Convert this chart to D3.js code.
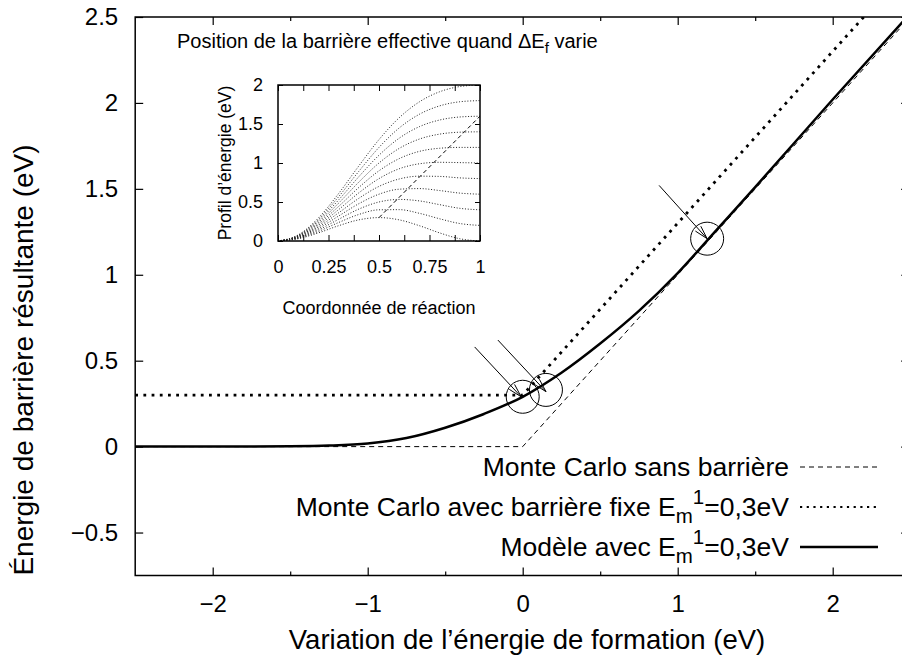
<!DOCTYPE html>
<html><head><meta charset="utf-8">
<script src="https://cdn.jsdelivr.net/npm/d3@7"></script>
<style>
html,body{margin:0;padding:0;background:#fff;}
text{font-family:"Liberation Sans",Arial,Helvetica,sans-serif;fill:#000;}
</style></head>
<body>
<svg id="chart" width="902" height="660"></svg>
<script>
// ---------- data ----------
const xTicks = [-2, -1, 0, 1, 2];
const xMinorTicks = [-1.5, -0.5, 0.5, 1.5];
const yTicks = [-0.5, 0, 0.5, 1, 1.5, 2, 2.5];

const mcSansX = [-2.5, 0, 2.5];
const mcSansY = [0, 0, 2.5];

const mcFixeX = [-2.5, 0, 2.5];
const mcFixeY = [0.3, 0.3, 2.8];

const modelX = [-2.5, -2, -1.5, -1.25, -1, -0.75, -0.5, -0.25, 0, 0.25, 0.5, 0.75, 1, 1.25, 1.5, 2, 2.5];
const modelY = [0, 0, 0.002, 0.006, 0.018, 0.05, 0.11, 0.19, 0.29, 0.43, 0.60, 0.79, 1.01, 1.26, 1.51, 2.02, 2.52];

const circleX = [0, 0.15, 1.19];
const circleY = [0.29, 0.33, 1.21];

const arrowFromX = [-0.31, -0.16, 0.88];
const arrowFromY = [0.58, 0.62, 1.52];
const arrowToX = [-0.01, 0.15, 1.19];
const arrowToY = [0.29, 0.32, 1.21];

const legendLabels = ["Monte Carlo sans barrière", "Monte Carlo avec barrière fixe E_m^1=0,3eV", "Modèle avec E_m^1=0,3eV"];

// inset
const insetCoord = [0, 0.1, 0.2, 0.3, 0.4, 0.5, 0.6, 0.7, 0.8, 0.9, 1.0];
const insetProfiles = [
  [0, .029, .104, .196, .271, .300, .271, .196, .104, .029, 0],
  [0, .034, .123, .237, .340, .400, .402, .355, .285, .224, .2],
  [0, .039, .142, .278, .409, .500, .533, .514, .466, .419, .4],
  [0, .044, .161, .320, .478, .600, .664, .672, .647, .614, .6],
  [0, .049, .180, .361, .547, .700, .795, .831, .828, .809, .8],
  [0, .054, .200, .402, .617, .800, .926, .990, 1.009, 1.005, 1.0],
  [0, .058, .219, .443, .686, .900, 1.056, 1.149, 1.189, 1.200, 1.2],
  [0, .063, .238, .485, .755, 1.000, 1.187, 1.307, 1.370, 1.395, 1.4],
  [0, .068, .257, .526, .824, 1.100, 1.318, 1.466, 1.551, 1.590, 1.6],
  [0, .073, .276, .567, .893, 1.200, 1.449, 1.625, 1.732, 1.785, 1.8],
  [0, .078, .295, .608, .962, 1.300, 1.580, 1.784, 1.913, 1.980, 2.0]
];
const insetPeakX = [0.5, 1.0];
const insetPeakY = [0.3, 1.6];
const insetXTicks = [0, 0.25, 0.5, 0.75, 1];
const insetXMinor = [0.125, 0.375, 0.625, 0.875];
const insetYTicks = [0, 0.5, 1, 1.5, 2];

// ---------- drawing ----------
const svg = d3.select("#chart");
svg.append("rect").attr("width", 902).attr("height", 660).attr("fill", "#fff");

const L = 135.2, R = 910.2, T = 17, B = 575.5;
const x = d3.scaleLinear().domain([-2.5, 2.5]).range([L, R]);
const y = d3.scaleLinear().domain([-0.75, 2.5]).range([B, T]);

const defs = svg.append("defs");
defs.append("clipPath").attr("id", "mainclip").append("rect")
  .attr("x", L).attr("y", T).attr("width", R - L).attr("height", B - T);

const fmt = d3.format("~g");
const tickFont = "24px";

// axes (gnuplot style: inward ticks, mirrored)
function styleAxis(g) {
  g.select(".domain").remove();
  g.selectAll(".tick line").attr("stroke", "#000").attr("stroke-width", 1.2);
  g.selectAll(".tick text").style("font-size", tickFont).attr("fill", "#000");
}
svg.append("g").attr("transform", `translate(0,${B})`)
  .call(d3.axisBottom(x).tickValues(xTicks).tickFormat(fmt).tickSizeInner(-8).tickSizeOuter(0).tickPadding(19))
  .call(styleAxis);
svg.append("g").attr("transform", `translate(0,${B})`)
  .call(d3.axisBottom(x).tickValues(xMinorTicks).tickFormat("").tickSizeInner(-4).tickSizeOuter(0))
  .call(styleAxis);
svg.append("g").attr("transform", `translate(0,${T})`)
  .call(d3.axisTop(x).tickValues(xTicks).tickFormat("").tickSizeInner(-8).tickSizeOuter(0))
  .call(styleAxis);
svg.append("g").attr("transform", `translate(0,${T})`)
  .call(d3.axisTop(x).tickValues(xMinorTicks).tickFormat("").tickSizeInner(-4).tickSizeOuter(0))
  .call(styleAxis);
svg.append("g").attr("transform", `translate(${L},0)`)
  .call(d3.axisLeft(y).tickValues(yTicks).tickFormat(fmt).tickSizeInner(-8).tickSizeOuter(0).tickPadding(17))
  .call(styleAxis);
svg.append("g").attr("transform", `translate(${R},0)`)
  .call(d3.axisRight(y).tickValues(yTicks).tickFormat("").tickSizeInner(-9).tickSizeOuter(0))
  .call(styleAxis);

svg.append("rect").attr("x", L).attr("y", T).attr("width", R - L).attr("height", B - T)
  .attr("fill", "none").attr("stroke", "#000").attr("stroke-width", 1.5);

// axis titles
svg.append("text").attr("x", 527).attr("y", 649).attr("text-anchor", "middle")
  .style("font-size", "27.5px").text("Variation de l’énergie de formation (eV)");
svg.append("text").attr("transform", "translate(33,360) rotate(-90)").attr("text-anchor", "middle")
  .style("font-size", "28px").text("Énergie de barrière résultante (eV)");

// curves
const line = d3.line().x(d => x(d[0])).y(d => y(d[1]));
const plot = svg.append("g").attr("clip-path", "url(#mainclip)");

plot.append("path").datum(d3.zip(mcSansX, mcSansY)).attr("d", line)
  .attr("fill", "none").attr("stroke", "#000").attr("stroke-width", 1).attr("stroke-dasharray", "5,4");
plot.append("path").datum(d3.zip(mcFixeX, mcFixeY)).attr("d", line)
  .attr("fill", "none").attr("stroke", "#000").attr("stroke-width", 2.8).attr("stroke-dasharray", "2.8,5.4");
plot.append("path").datum(d3.zip(modelX, modelY))
  .attr("d", d3.line().curve(d3.curveMonotoneX).x(d => x(d[0])).y(d => y(d[1])))
  .attr("fill", "none").attr("stroke", "#000").attr("stroke-width", 2.5);

// circles
plot.selectAll("circle.mark").data(d3.zip(circleX, circleY)).join("circle")
  .attr("class", "mark").attr("cx", d => x(d[0])).attr("cy", d => y(d[1])).attr("r", 16.5)
  .attr("fill", "none").attr("stroke", "#000").attr("stroke-width", 1);

// arrows
const arrows = arrowFromX.map((v, i) => ({x1: x(v), y1: y(arrowFromY[i]), x2: x(arrowToX[i]), y2: y(arrowToY[i])}));
const ag = plot.append("g").attr("stroke", "#000").attr("stroke-width", 1).attr("fill", "none");
arrows.forEach(a => {
  ag.append("line").attr("x1", a.x1).attr("y1", a.y1).attr("x2", a.x2).attr("y2", a.y2);
  const ang = Math.atan2(a.y2 - a.y1, a.x2 - a.x1);
  const hl = 14, ha = 15 * Math.PI / 180;
  const p1 = [a.x2 - hl * Math.cos(ang - ha), a.y2 - hl * Math.sin(ang - ha)];
  const p2 = [a.x2 - hl * Math.cos(ang + ha), a.y2 - hl * Math.sin(ang + ha)];
  ag.append("path").attr("d", `M${p1[0]},${p1[1]}L${a.x2},${a.y2}L${p2[0]},${p2[1]}`);
});

// legend
const legStyles = [
  {w: 1, dash: "5,4"},
  {w: 2.2, dash: "2.2,4.5"},
  {w: 2.5, dash: null}
];
const legY = [467, 507, 547];
const legTextX = 789, legLineX1 = 800, legLineX2 = 878;
legendLabels.forEach((lab, i) => {
  const t = svg.append("text").attr("x", legTextX).attr("y", legY[i] + 9)
    .attr("text-anchor", "end").style("font-size", "26.5px");
  const m = lab.match(/^(.*)E_m\^1(.*)$/);
  if (m) {
    t.append("tspan").text(m[1] + "E");
    t.append("tspan").style("font-size", "20.5px").attr("dy", 7).text("m");
    t.append("tspan").style("font-size", "20.5px").attr("dy", -19).text("1");
    t.append("tspan").attr("dy", 12).text(m[2]);
  } else {
    t.text(lab);
  }
  const ln = svg.append("line").attr("x1", legLineX1).attr("x2", legLineX2)
    .attr("y1", legY[i]).attr("y2", legY[i])
    .attr("stroke", "#000").attr("stroke-width", legStyles[i].w);
  if (legStyles[i].dash) ln.attr("stroke-dasharray", legStyles[i].dash);
});

// ---------- inset ----------
const iL = 278, iR = 480, iT = 85, iB = 241;
const xi = d3.scaleLinear().domain([0, 1]).range([iL, iR]);
const yi = d3.scaleLinear().domain([0, 2]).range([iB, iT]);
defs.append("clipPath").attr("id", "insetclip").append("rect")
  .attr("x", iL).attr("y", iT).attr("width", iR - iL).attr("height", iB - iT);

svg.append("text").attr("x", 177).attr("y", 48).style("font-size", "20px")
  .call(t => {
    t.append("tspan").text("Position de la barrière effective quand ΔE");
    t.append("tspan").style("font-size", "15px").attr("dy", 5).text("f");
    t.append("tspan").attr("dy", -5).text(" varie");
  });

function styleInset(g) {
  g.select(".domain").remove();
  g.selectAll(".tick line").attr("stroke", "#000").attr("stroke-width", 1);
  g.selectAll(".tick text").style("font-size", "18px").attr("fill", "#000");
}
const insetFmt = d3.format("~g");
svg.append("g").attr("transform", `translate(0,${iB})`)
  .call(d3.axisBottom(xi).tickValues(insetXTicks).tickFormat(insetFmt).tickSizeInner(-6).tickSizeOuter(0).tickPadding(19))
  .call(styleInset);
svg.append("g").attr("transform", `translate(0,${iB})`)
  .call(d3.axisBottom(xi).tickValues(insetXMinor).tickFormat("").tickSizeInner(-6).tickSizeOuter(0))
  .call(styleInset);
svg.append("g").attr("transform", `translate(0,${iT})`)
  .call(d3.axisTop(xi).tickValues(insetXTicks.concat(insetXMinor)).tickFormat("").tickSizeInner(-6).tickSizeOuter(0))
  .call(styleInset);
svg.append("g").attr("transform", `translate(${iL},0)`)
  .call(d3.axisLeft(yi).tickValues(insetYTicks).tickFormat(insetFmt).tickSizeInner(-5).tickSizeOuter(0).tickPadding(15))
  .call(styleInset);
svg.append("g").attr("transform", `translate(${iR},0)`)
  .call(d3.axisRight(yi).tickValues(insetYTicks).tickFormat("").tickSizeInner(-5).tickSizeOuter(0))
  .call(styleInset);

const ip = svg.append("g").attr("clip-path", "url(#insetclip)");
const iline = d3.line().curve(d3.curveMonotoneX).x(d => xi(d[0])).y(d => yi(d[1]));
ip.selectAll("path.prof").data(insetProfiles).join("path").attr("class", "prof")
  .attr("d", p => iline(d3.zip(insetCoord, p)))
  .attr("fill", "none").attr("stroke", "#222").attr("stroke-width", 1).attr("stroke-dasharray", "1,1.8");
ip.append("path").datum(d3.zip(insetPeakX, insetPeakY))
  .attr("d", d3.line().x(d => xi(d[0])).y(d => yi(d[1])))
  .attr("fill", "none").attr("stroke", "#000").attr("stroke-width", 1).attr("stroke-dasharray", "4,3");

svg.append("rect").attr("x", iL).attr("y", iT).attr("width", iR - iL).attr("height", iB - iT)
  .attr("fill", "none").attr("stroke", "#000").attr("stroke-width", 1.5);

svg.append("text").attr("x", 379).attr("y", 314).attr("text-anchor", "middle")
  .style("font-size", "18px").text("Coordonnée de réaction");
svg.append("text").attr("transform", `translate(231,${(iT + iB) / 2}) rotate(-90)`).attr("text-anchor", "middle")
  .style("font-size", "17.5px").text("Profil d’énergie (eV)");
</script>
</body></html>
